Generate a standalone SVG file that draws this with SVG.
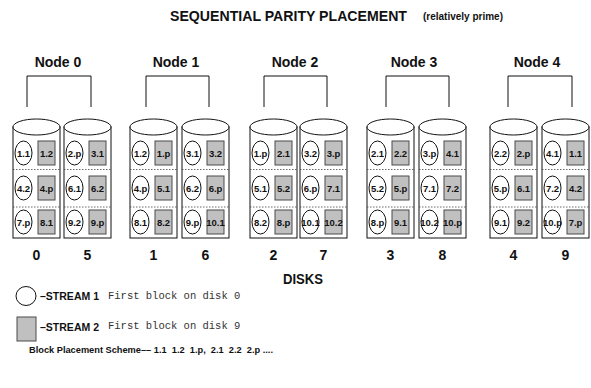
<svg xmlns="http://www.w3.org/2000/svg" width="591" height="388" viewBox="0 0 591 388">
<style>
.t{font-family:"Liberation Sans",Arial,sans-serif;font-weight:bold;fill:#111}
.c{font-size:9.5px;text-anchor:middle}
.lb{font-size:14px;text-anchor:middle}
.m{font-family:"Liberation Mono","Courier New",monospace;font-size:10.5px;fill:#333}
.ln{fill:none;stroke:#111;stroke-width:1}
.body{fill:#fff;stroke:#111;stroke-width:1}
.dash{stroke:#444;stroke-width:0.8;stroke-dasharray:1.5,1.5}
.cir{fill:#fff;stroke:#111;stroke-width:1}
.sq{fill:#c0c0c0;stroke:#4a4a4a;stroke-width:1}
</style>
<defs>
<g id="cyl">
<rect class="body" x="0" y="127" width="47" height="111"/>
<ellipse class="body" cx="23.5" cy="127" rx="23.5" ry="8"/>
<line class="dash" x1="0" y1="169.5" x2="47" y2="169.5"/>
<line class="dash" x1="0" y1="207" x2="47" y2="207"/>
<ellipse class="cir" cx="10.5" cy="153" rx="8.5" ry="12"/>
<ellipse class="cir" cx="10.5" cy="188" rx="8.5" ry="12"/>
<ellipse class="cir" cx="10.5" cy="222" rx="8.5" ry="12"/>
<rect class="sq" x="25" y="141" width="17" height="24"/>
<rect class="sq" x="25" y="176" width="17" height="24"/>
<rect class="sq" x="25" y="210" width="17" height="24"/>
</g>
</defs>

<text class="t" x="170" y="21" font-size="14" textLength="237" lengthAdjust="spacingAndGlyphs">SEQUENTIAL  PARITY  PLACEMENT</text>
<text class="t" x="423" y="20" font-size="10" textLength="80" lengthAdjust="spacingAndGlyphs">(relatively prime)</text>

<g id="connectors">
<polyline class="ln" points="27,107 27,76 91,76 91,107"/>
<polyline class="ln" points="146,107 146,76 209,76 209,107"/>
<polyline class="ln" points="264,107 264,76 327,76 327,107"/>
<polyline class="ln" points="386,107 386,76 449,76 449,107"/>
<polyline class="ln" points="508,107 508,76 572,76 572,107"/>
</g>

<g id="node0">
<text class="t lb" x="58" y="67">Node 0</text>
</g>
<g id="node1">
<text class="t lb" x="176" y="67">Node 1</text>
</g>
<g id="node2">
<text class="t lb" x="295" y="67">Node 2</text>
</g>
<g id="node3">
<text class="t lb" x="414" y="67">Node 3</text>
</g>
<g id="node4">
<text class="t lb" x="537" y="67">Node 4</text>
</g>

<g id="disk0" transform="translate(13,0)">
<use href="#cyl"/>
<text class="t c" x="10.5" y="156.5">1.1</text><text class="t c" x="33.5" y="156.5">1.2</text>
<text class="t c" x="10.5" y="191.5">4.2</text><text class="t c" x="33.5" y="191.5">4.p</text>
<text class="t c" x="10.5" y="225.5">7.p</text><text class="t c" x="33.5" y="225.5">8.1</text>
<text class="t lb" x="23.5" y="260">0</text>
</g>
<g id="disk5" transform="translate(64,0)">
<use href="#cyl"/>
<text class="t c" x="10.5" y="156.5">2.p</text><text class="t c" x="33.5" y="156.5">3.1</text>
<text class="t c" x="10.5" y="191.5">6.1</text><text class="t c" x="33.5" y="191.5">6.2</text>
<text class="t c" x="10.5" y="225.5">9.2</text><text class="t c" x="33.5" y="225.5">9.p</text>
<text class="t lb" x="23.5" y="260">5</text>
</g>
<g id="disk1" transform="translate(130,0)">
<use href="#cyl"/>
<text class="t c" x="10.5" y="156.5">1.2</text><text class="t c" x="33.5" y="156.5">1.p</text>
<text class="t c" x="10.5" y="191.5">4.p</text><text class="t c" x="33.5" y="191.5">5.1</text>
<text class="t c" x="10.5" y="225.5">8.1</text><text class="t c" x="33.5" y="225.5">8.2</text>
<text class="t lb" x="23.5" y="260">1</text>
</g>
<g id="disk6" transform="translate(182,0)">
<use href="#cyl"/>
<text class="t c" x="10.5" y="156.5">3.1</text><text class="t c" x="33.5" y="156.5">3.2</text>
<text class="t c" x="10.5" y="191.5">6.2</text><text class="t c" x="33.5" y="191.5">6.p</text>
<text class="t c" x="10.5" y="225.5">9.p</text><text class="t c" x="33.5" y="225.5">10.1</text>
<text class="t lb" x="23.5" y="260">6</text>
</g>
<g id="disk2" transform="translate(250,0)">
<use href="#cyl"/>
<text class="t c" x="10.5" y="156.5">1.p</text><text class="t c" x="33.5" y="156.5">2.1</text>
<text class="t c" x="10.5" y="191.5">5.1</text><text class="t c" x="33.5" y="191.5">5.2</text>
<text class="t c" x="10.5" y="225.5">8.2</text><text class="t c" x="33.5" y="225.5">8.p</text>
<text class="t lb" x="23.5" y="260">2</text>
</g>
<g id="disk7" transform="translate(300,0)">
<use href="#cyl"/>
<text class="t c" x="10.5" y="156.5">3.2</text><text class="t c" x="33.5" y="156.5">3.p</text>
<text class="t c" x="10.5" y="191.5">6.p</text><text class="t c" x="33.5" y="191.5">7.1</text>
<text class="t c" x="10.5" y="225.5">10.1</text><text class="t c" x="33.5" y="225.5">10.2</text>
<text class="t lb" x="23.5" y="260">7</text>
</g>
<g id="disk3" transform="translate(367,0)">
<use href="#cyl"/>
<text class="t c" x="10.5" y="156.5">2.1</text><text class="t c" x="33.5" y="156.5">2.2</text>
<text class="t c" x="10.5" y="191.5">5.2</text><text class="t c" x="33.5" y="191.5">5.p</text>
<text class="t c" x="10.5" y="225.5">8.p</text><text class="t c" x="33.5" y="225.5">9.1</text>
<text class="t lb" x="23.5" y="260">3</text>
</g>
<g id="disk8" transform="translate(419,0)">
<use href="#cyl"/>
<text class="t c" x="10.5" y="156.5">3.p</text><text class="t c" x="33.5" y="156.5">4.1</text>
<text class="t c" x="10.5" y="191.5">7.1</text><text class="t c" x="33.5" y="191.5">7.2</text>
<text class="t c" x="10.5" y="225.5">10.2</text><text class="t c" x="33.5" y="225.5">10.p</text>
<text class="t lb" x="23.5" y="260">8</text>
</g>
<g id="disk4" transform="translate(490,0)">
<use href="#cyl"/>
<text class="t c" x="10.5" y="156.5">2.2</text><text class="t c" x="33.5" y="156.5">2.p</text>
<text class="t c" x="10.5" y="191.5">5.p</text><text class="t c" x="33.5" y="191.5">6.1</text>
<text class="t c" x="10.5" y="225.5">9.1</text><text class="t c" x="33.5" y="225.5">9.2</text>
<text class="t lb" x="23.5" y="260">4</text>
</g>
<g id="disk9" transform="translate(542,0)">
<use href="#cyl"/>
<text class="t c" x="10.5" y="156.5">4.1</text><text class="t c" x="33.5" y="156.5">1.1</text>
<text class="t c" x="10.5" y="191.5">7.2</text><text class="t c" x="33.5" y="191.5">4.2</text>
<text class="t c" x="10.5" y="225.5">10.p</text><text class="t c" x="33.5" y="225.5">7.p</text>
<text class="t lb" x="23.5" y="260">9</text>
</g>

<text class="t" x="283" y="284" font-size="14" textLength="40" lengthAdjust="spacingAndGlyphs">DISKS</text>

<g id="legend">
<ellipse class="cir" cx="26" cy="296" rx="10" ry="9.5"/>
<text class="t" x="40" y="300" font-size="11" textLength="59" lengthAdjust="spacingAndGlyphs">–STREAM 1</text>
<text class="m" x="108" y="299">First block on disk 0</text>
<rect class="sq" x="17" y="317" width="19" height="24"/>
<text class="t" x="40" y="331" font-size="11" textLength="59" lengthAdjust="spacingAndGlyphs">–STREAM 2</text>
<text class="m" x="108" y="329">First block on disk 9</text>
</g>

<text class="t" x="29" y="353" font-size="9.5" textLength="244" lengthAdjust="spacingAndGlyphs" xml:space="preserve">Block Placement Scheme–– 1.1  1.2  1.p,  2.1  2.2  2.p ....</text>
</svg>
